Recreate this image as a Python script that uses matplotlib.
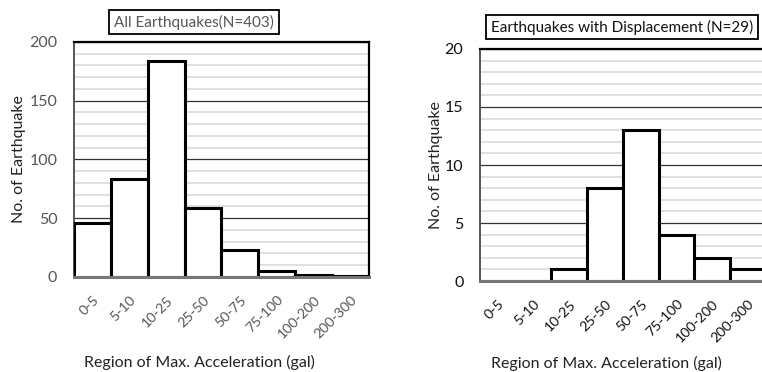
import matplotlib.pyplot as plt
from matplotlib.ticker import MultipleLocator

plt.rcParams["font.family"] = ["Lato", "DejaVu Sans"]

categories = ["0-5", "5-10", "10-25", "25-50", "50-75", "75-100", "100-200", "200-300"]
all_counts = [46, 83, 184, 59, 23, 5, 2, 1]
disp_counts = [0, 0, 1, 8, 13, 4, 2, 1]

fig = plt.figure(figsize=(7.62, 3.72), dpi=100)

ax_all = fig.add_axes([0.0971, 0.2554, 0.387, 0.632])
ax_disp = fig.add_axes([0.630, 0.2446, 0.375, 0.6237])


def draw_hist(ax, counts, ymax, major, minor, title, text_color, title_xy, xlabel_xy, ylabel_x):
    x = list(range(len(counts)))
    ax.set_axisbelow(True)
    ax.yaxis.set_major_locator(MultipleLocator(major))
    ax.yaxis.set_minor_locator(MultipleLocator(minor))
    ax.grid(True, which="minor", axis="y", color="#dddddd", linewidth=1.3)
    ax.grid(True, which="major", axis="y", color="#333333", linewidth=0.9)
    ax.bar(x, counts, width=1.0, color="white", edgecolor="black", linewidth=2.2, zorder=3)
    ax.set_xlim(-0.5, len(counts) - 0.5)
    ax.set_ylim(0, ymax)
    ax.set_xticks(x)
    ax.set_xticklabels(categories, rotation=45, ha="right", rotation_mode="anchor",
                       fontsize=10.2, color=text_color)
    ax.tick_params(axis="x", length=0, pad=12)
    ax.tick_params(axis="y", which="both", length=0, labelsize=11.5, labelcolor=text_color, pad=12)
    ax.set_ylabel("No. of Earthquake", fontsize=11.5, color="#222222")
    ax.set_xlabel("Region of Max. Acceleration (gal)", fontsize=11.5, color="#222222")
    ax.xaxis.set_label_coords(*xlabel_xy)
    ax.yaxis.set_label_coords(ylabel_x, 0.5)
    for side in ("top", "right"):
        ax.spines[side].set_color("black")
        ax.spines[side].set_linewidth(1.6)
    ax.spines["left"].set_color("#555555")
    ax.spines["left"].set_linewidth(1.4)
    ax.spines["bottom"].set_color("#777777")
    ax.spines["bottom"].set_linewidth(2.2)
    ax.spines["bottom"].set_zorder(4)
    fig.text(title_xy[0], title_xy[1], title, ha="center", va="center", fontsize=11,
             color=text_color,
             bbox=dict(boxstyle="square,pad=0.3", facecolor="white", edgecolor="black", linewidth=1.3))


draw_hist(ax_all, all_counts, 200, 50, 10, "All Earthquakes(N=403)", "#555555",
          (0.2546, 0.9409), (0.427, -0.33), -0.162)
draw_hist(ax_disp, disp_counts, 20, 5, 1, "Earthquakes with Displacement (N=29)", "#111111",
          (0.8163, 0.9274), (0.444, -0.325), -0.13)

fig.savefig("out.png", dpi=100, facecolor="white")
